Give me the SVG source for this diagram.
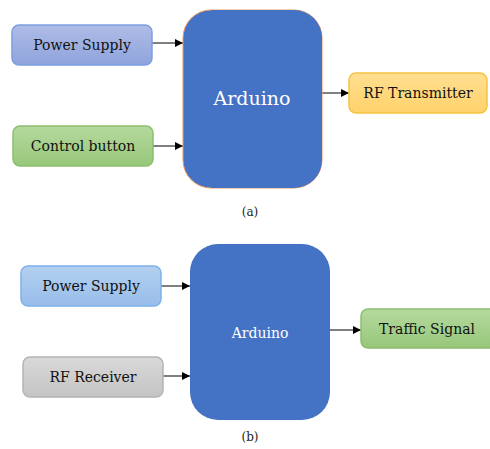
<svg xmlns="http://www.w3.org/2000/svg" width="490" height="449" viewBox="0 0 490 449">
<style>
.t{font-family:'DejaVu Serif',serif;font-size:14px;fill:#111;text-anchor:middle}
.w{fill:#fff}
.c{stroke:#000;stroke-width:1;fill:none;marker-end:url(#ah)}
.cap{font-family:'DejaVu Serif',serif;font-size:12px;fill:#222;text-anchor:middle}
</style>
<defs>
<marker id="ah" viewBox="0 0 10 10" refX="10" refY="5" markerWidth="8" markerHeight="8" markerUnits="userSpaceOnUse" orient="auto"><path d="M0,0L10,5L0,10z" fill="#000"/></marker>
<linearGradient id="gp" x1="0" y1="0" x2="0" y2="1"><stop offset="0" stop-color="#aebce6"/><stop offset="1" stop-color="#8fa4dc"/></linearGradient>
<linearGradient id="gg" x1="0" y1="0" x2="0" y2="1"><stop offset="0" stop-color="#b5d99e"/><stop offset="1" stop-color="#97c77a"/></linearGradient>
<linearGradient id="gy" x1="0" y1="0" x2="0" y2="1"><stop offset="0" stop-color="#ffdf91"/><stop offset="1" stop-color="#ffd26b"/></linearGradient>
<linearGradient id="gb" x1="0" y1="0" x2="0" y2="1"><stop offset="0" stop-color="#b3d0f0"/><stop offset="1" stop-color="#98bdea"/></linearGradient>
<linearGradient id="gr" x1="0" y1="0" x2="0" y2="1"><stop offset="0" stop-color="#d9d9d9"/><stop offset="1" stop-color="#c4c4c4"/></linearGradient>
</defs>
<rect width="490" height="449" fill="#fff"/>
<g id="connectors">
<path class="c" d="M152,43H183"/>
<path class="c" d="M153,146H183"/>
<path class="c" d="M322,93H349"/>
<path class="c" d="M161,286H190"/>
<path class="c" d="M163,376H190"/>
<path class="c" d="M330,330H361"/>
</g>
<g id="ps1"><rect x="12" y="25" width="140" height="40" rx="7" fill="url(#gp)" stroke="#7e9ee0" stroke-width="1.5"/><text class="t" x="82" y="50">Power Supply</text></g>
<g id="cb"><rect x="13" y="126" width="140" height="40" rx="7" fill="url(#gg)" stroke="#8cbf6e" stroke-width="1.5"/><text class="t" x="83" y="151">Control button</text></g>
<g id="ard1"><rect x="183" y="10" width="139" height="178" rx="28" fill="#4472c4" stroke="#ed9a5c" stroke-width="1"/><path d="M211,10H294A28,28 0 0 1 322,38V160A28,28 0 0 1 294,188H211" fill="#4472c4"/><text class="t w" x="252" y="105" style="font-size:19px">Arduino</text></g>
<g id="rft"><rect x="349" y="73" width="138" height="40" rx="7" fill="url(#gy)" stroke="#f5c342" stroke-width="1.5"/><text class="t" x="418" y="98">RF Transmitter</text></g>
<text class="cap" x="250" y="216">(a)</text>
<g id="ps2"><rect x="21" y="266" width="140" height="40" rx="7" fill="url(#gb)" stroke="#7eb2ea" stroke-width="1.5"/><text class="t" x="91" y="291">Power Supply</text></g>
<g id="rfr"><rect x="23" y="357" width="140" height="40" rx="7" fill="url(#gr)" stroke="#b4b4b4" stroke-width="1.5"/><text class="t" x="93" y="382">RF Receiver</text></g>
<g id="ard2"><rect x="190" y="244" width="140" height="176" rx="28" fill="#4472c4"/><text class="t w" x="260" y="338">Arduino</text></g>
<g id="ts"><rect x="361" y="309" width="135" height="39" rx="7" fill="url(#gg)" stroke="#8cbf6e" stroke-width="1.5"/><text class="t" x="427" y="334">Traffic Signal</text></g>
<text class="cap" x="250" y="441">(b)</text>
</svg>
